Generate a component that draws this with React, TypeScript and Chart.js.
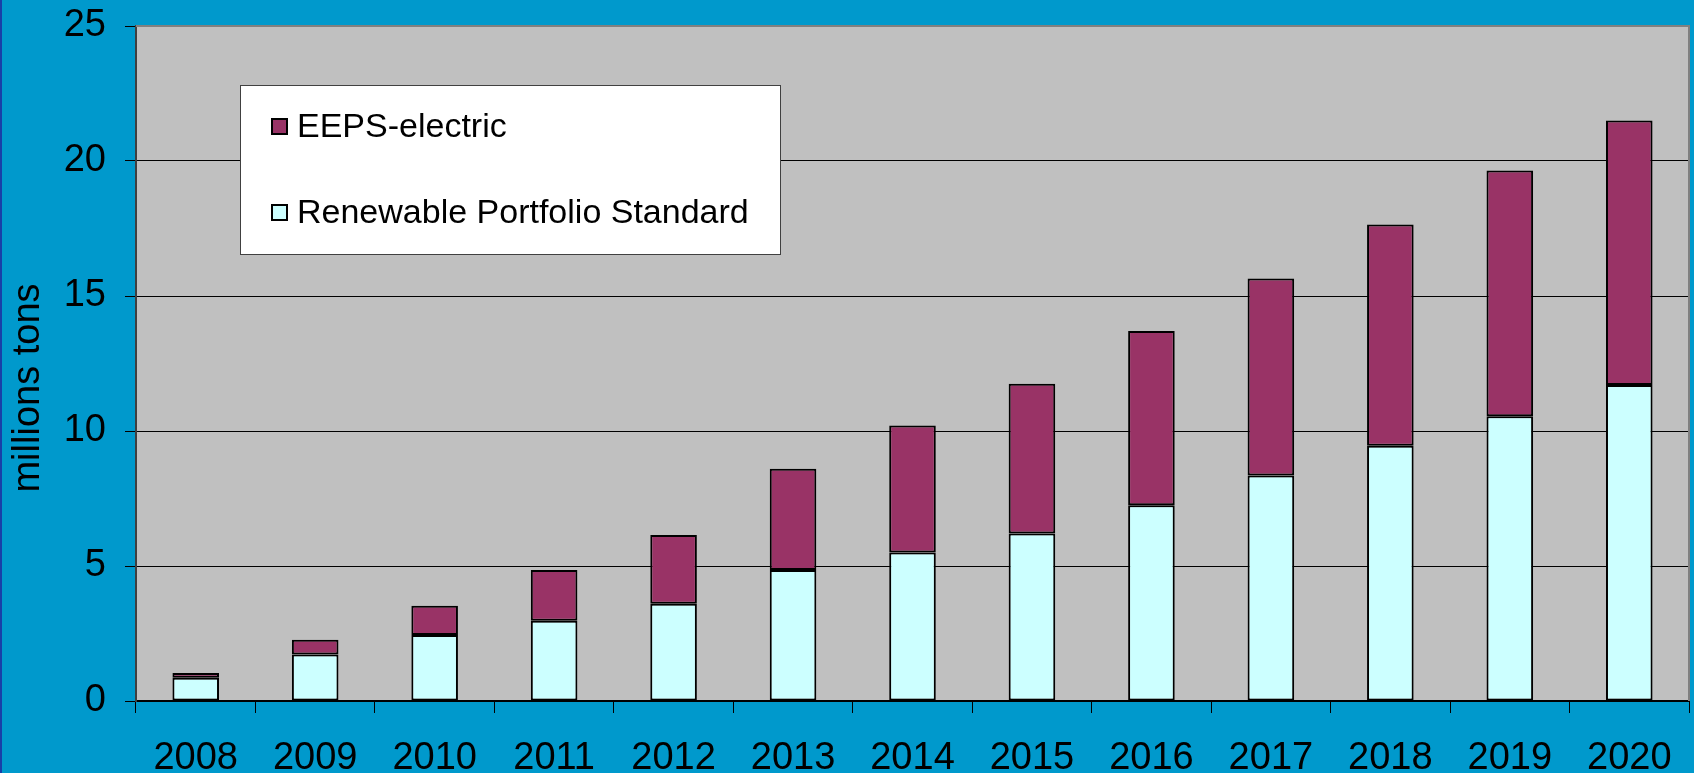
import React, { useEffect, useRef } from 'react';
import { Chart, registerables } from 'chart.js';

Chart.register(...registerables);

const years = ['2008', '2009', '2010', '2011', '2012', '2013', '2014', '2015', '2016', '2017', '2018', '2019', '2020'];
const rpsValues = [0.86, 1.72, 2.44, 2.97, 3.6, 4.85, 5.5, 6.2, 7.25, 8.35, 9.45, 10.55, 11.7];
const eepsValues = [0.18, 0.55, 1.09, 1.88, 2.55, 3.75, 4.7, 5.55, 6.45, 7.3, 8.2, 9.1, 9.8];
const yTicks = [0, 5, 10, 15, 20, 25];
const seriesLabels = ['Renewable Portfolio Standard', 'EEPS-electric'];
const seriesColors = ['#CCFFFF', '#993366'];
const yAxisTitle = 'millions tons';

const FAMILY = "'Liberation Sans', Arial, sans-serif";

const decorPlugin = {
  id: 'decor',
  beforeDraw(chart: any) {
    const { ctx, chartArea } = chart;
    ctx.save();
    ctx.fillStyle = '#0099CC';
    ctx.fillRect(0, 0, chart.width, chart.height);
    ctx.fillStyle = '#1840A8';
    ctx.fillRect(0, 0, 2, chart.height);
    ctx.fillStyle = '#C0C0C0';
    ctx.fillRect(chartArea.left, chartArea.top, chartArea.right - chartArea.left, chartArea.bottom - chartArea.top);
    ctx.restore();
  },
  afterDraw(chart: any) {
    const { ctx, chartArea } = chart;
    ctx.save();
    ctx.strokeStyle = '#808080';
    ctx.lineWidth = 2;
    ctx.beginPath();
    ctx.moveTo(chartArea.left, chartArea.top);
    ctx.lineTo(chartArea.right, chartArea.top);
    ctx.lineTo(chartArea.right, chartArea.bottom);
    ctx.stroke();

    ctx.fillStyle = '#000';
    ctx.font = `38px ${FAMILY}`;
    ctx.textAlign = 'center';
    ctx.textBaseline = 'middle';
    ctx.translate(29, 388);
    ctx.rotate(-Math.PI / 2);
    ctx.fillText(yAxisTitle, 0, 0);
    ctx.restore();

    ctx.save();
    const lx = chartArea.left + 104;
    const ly = chartArea.top + 59;
    const lw = 540;
    const lh = 169;
    ctx.fillStyle = '#FFFFFF';
    ctx.fillRect(lx, ly, lw, lh);
    ctx.strokeStyle = '#404040';
    ctx.lineWidth = 1;
    ctx.strokeRect(lx + 0.5, ly + 0.5, lw, lh);
    const order = [1, 0];
    const rowsY = [ly + 42, ly + 128];
    ctx.font = `34px ${FAMILY}`;
    ctx.textAlign = 'left';
    ctx.textBaseline = 'middle';
    order.forEach((di, i) => {
      const ds = chart.data.datasets[di];
      const yc = rowsY[i];
      ctx.fillStyle = ds.backgroundColor;
      ctx.fillRect(lx + 32, yc - 8, 15, 15);
      ctx.strokeStyle = '#000';
      ctx.lineWidth = 2;
      ctx.strokeRect(lx + 32, yc - 8, 15, 15);
      ctx.fillStyle = '#000';
      ctx.fillText(ds.label, lx + 57, yc + 1);
    });
    ctx.restore();
  },
};

export default function App() {
  const canvasRef = useRef<HTMLCanvasElement | null>(null);

  useEffect(() => {
    document.body.style.margin = '0';
    const canvas = canvasRef.current;
    if (!canvas) return;
    const chart = new Chart(canvas, {
      type: 'bar',
      data: {
        labels: years,
        datasets: [
          {
            label: seriesLabels[0],
            data: rpsValues,
            backgroundColor: seriesColors[0],
            borderColor: '#000',
            borderWidth: 2,
            borderSkipped: false,
            categoryPercentage: 1,
            barPercentage: 0.39,
          },
          {
            label: seriesLabels[1],
            data: eepsValues,
            backgroundColor: seriesColors[1],
            borderColor: '#000',
            borderWidth: 2,
            borderSkipped: false,
            categoryPercentage: 1,
            barPercentage: 0.39,
          },
        ],
      },
      options: {
        responsive: false,
        animation: false,
        devicePixelRatio: 1,
        layout: { padding: { top: 26, right: 5, left: 0, bottom: 0 } },
        plugins: {
          legend: { display: false },
          title: { display: false },
          tooltip: { enabled: false },
        },
        scales: {
          x: {
            stacked: true,
            grid: {
              display: true,
              drawOnChartArea: false,
              drawTicks: true,
              tickLength: 12,
              color: '#000',
              lineWidth: 1,
              offset: true,
            },
            border: { display: true, color: '#000', width: 2 },
            ticks: {
              font: { size: 38, family: FAMILY },
              color: '#000',
              padding: 23,
              maxRotation: 0,
              autoSkip: false,
            },
            afterFit: (s: any) => {
              s.height = 72;
              s.paddingLeft = 0;
              s.paddingRight = 0;
            },
          },
          y: {
            stacked: true,
            min: 0,
            max: 25,
            afterBuildTicks: (s: any) => {
              s.ticks = yTicks.map((v) => ({ value: v }));
            },
            ticks: {
              font: { size: 38, family: FAMILY },
              color: '#000',
              padding: 19,
            },
            grid: {
              color: '#000',
              lineWidth: 1,
              tickLength: 11,
              drawTicks: true,
            },
            border: { display: true, color: '#404040', width: 2 },
            afterFit: (s: any) => {
              s.width = 136;
              s.paddingTop = 0;
              s.paddingBottom = 0;
            },
          },
        },
      },
      plugins: [decorPlugin],
    });
    return () => chart.destroy();
  }, []);

  return (
    <div style={{ width: 1694, height: 773, background: '#0099CC', overflow: 'hidden' }}>
      <canvas ref={canvasRef} width={1694} height={773} style={{ display: 'block' }} />
    </div>
  );
}
